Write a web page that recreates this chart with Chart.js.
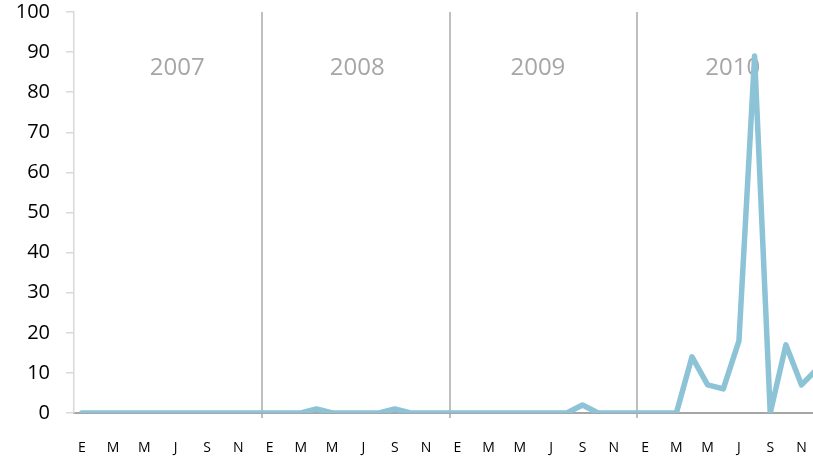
<!DOCTYPE html>
<html>
<head>
<meta charset="utf-8">
<script src="https://cdn.jsdelivr.net/npm/chart.js@4.4.0/dist/chart.umd.min.js"></script>
<style>
  html, body { margin: 0; padding: 0; background: #fff; overflow: hidden; }
  #wrap { width: 813px; height: 458px; overflow: hidden; }
  canvas { display: block; }
</style>
</head>
<body>
<div id="wrap"><canvas id="chart" width="840" height="458"></canvas></div>
<script>
// Month initials (Spanish) and yearly series
const months = ["E", "F", "M", "A", "M", "J", "J", "A", "S", "O", "N", "D"];
const years = ["2007", "2008", "2009", "2010"];
const v2007 = [0, 0, 0, 0, 0, 0, 0, 0, 0, 0, 0, 0];
const v2008 = [0, 0, 0, 1, 0, 0, 0, 0, 1, 0, 0, 0];
const v2009 = [0, 0, 0, 0, 0, 0, 0, 0, 2, 0, 0, 0];
const v2010 = [0, 0, 0, 14, 7, 6, 18, 89, 0, 17, 7, 11];
const yTicks = [0, 10, 20, 30, 40, 50, 60, 70, 80, 90, 100];

const labels = years.flatMap(() => months);
const values = [].concat(v2007, v2008, v2009, v2010);

// year captions drawn behind the line
const yearLabels = {
    id: "yearLabels",
    beforeDatasetsDraw(chart) {
        const x = chart.scales.x, ctx = chart.ctx;
        const shift = [6.1, 5.6, 5.15, 5.6];
        ctx.save();
        ctx.font = "24px 'Open Sans'";
        ctx.fillStyle = "#A6A6A6";
        ctx.textAlign = "center";
        ctx.textBaseline = "middle";
        years.forEach((y, i) => {
            ctx.fillText(y, x.getPixelForValue(i * 12 + shift[i]), 68);
        });
        ctx.restore();
    }
};

new Chart(document.getElementById("chart"), {
    type: "line",
    data: {
        labels: labels,
        datasets: [{
            data: values,
            borderColor: "#8CC3D6",
            borderWidth: 5.5,
            borderJoinStyle: "round",
            borderCapStyle: "round",
            pointRadius: 0,
            tension: 0,
            fill: false
        }]
    },
    options: {
        responsive: false,
        animation: false,
        layout: { padding: { top: 12, right: 15, left: 0, bottom: 0 } },
        plugins: { legend: { display: false }, tooltip: { enabled: false } },
        scales: {
            x: {
                offset: true,
                afterFit: s => { s.height = 45; s.paddingLeft = 0; s.paddingRight = 0; },
                grid: {
                    offset: true,
                    color: c => (c.index > 0 && c.index % 12 === 0) ? "#BFBFBF" : "rgba(0,0,0,0)",
                    lineWidth: 2,
                    tickLength: 5
                },
                border: { color: "#A6A6A6", width: 2 },
                ticks: {
                    autoSkip: false,
                    maxRotation: 0,
                    padding: 22,
                    color: "#000",
                    font: { family: "'Open Sans'", size: 14 },
                    callback: function (v, i) { return i % 2 === 0 ? labels[i] : ""; }
                }
            },
            y: {
                min: 0,
                max: 100,
                afterFit: s => { s.width = 74; s.paddingTop = 0; s.paddingBottom = 0; },
                afterBuildTicks: s => { s.ticks = yTicks.map(v => ({ value: v })); },
                grid: {
                    drawOnChartArea: false,
                    color: "#D9D9D9",
                    lineWidth: 1.5,
                    tickLength: 8
                },
                border: { color: "#D9D9D9", width: 1.5 },
                ticks: {
                    padding: 16,
                    color: "#000",
                    font: { family: "'Open Sans'", size: 20 }
                }
            }
        }
    },
    plugins: [yearLabels]
});
</script>
</body>
</html>
